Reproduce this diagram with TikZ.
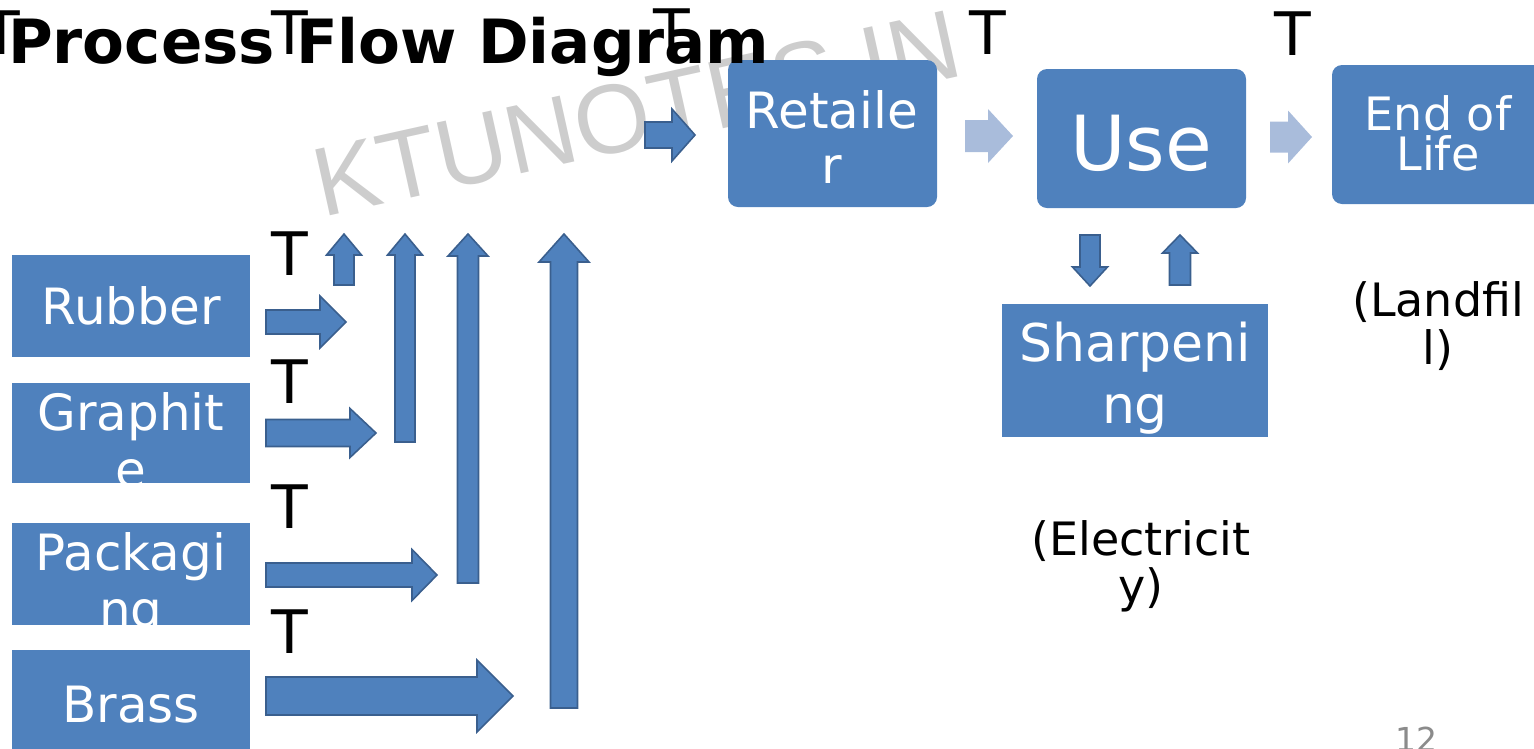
\documentclass[tikz,border=0pt]{standalone}
\usepackage{fontspec}
\setmainfont{DejaVu Sans}
\newfontfamily\wmfont{Liberation Sans}
\definecolor{boxblue}{HTML}{4F81BD}
\definecolor{arwline}{HTML}{3A5F8E}
\definecolor{lightarw}{HTML}{A9BCDB}
\definecolor{wmgray}{HTML}{CDCDCD}
\definecolor{pagegray}{HTML}{8B8B8B}
% right-pointing block arrow: [style]{x0}{y}{x head base}{x tip}{half shaft}{half head}
\newcommand\arR[7][arw]{\path[#1] ({#2},{#3-#6}) -- ({#4},{#3-#6}) -- ({#4},{#3-#7}) -- ({#5},{#3}) -- ({#4},{#3+#7}) -- ({#4},{#3+#6}) -- ({#2},{#3+#6}) -- cycle;}
% vertical block arrow: [style]{cx}{y tip}{y head base}{y tail}{half shaft}{half head}
\newcommand\arV[7][arw]{\path[#1] ({#2-#6},{#5}) -- ({#2-#6},{#4}) -- ({#2-#7},{#4}) -- ({#2},{#3}) -- ({#2+#7},{#4}) -- ({#2+#6},{#4}) -- ({#2+#6},{#5}) -- cycle;}
\begin{document}
\begin{tikzpicture}[x=1pt,y=-1pt,
  bx/.style={fill=boxblue, draw=none, inner sep=0pt},
  rbx/.style={bx, rounded corners=10pt},
  wt/.style={text=white, inner sep=0pt, anchor=base, font=\fontsize{50}{57}\selectfont},
  bt/.style={text=black, inner sep=0pt, anchor=base, font=\fontsize{46}{50}\selectfont},
  tm/.style={text=black, inner sep=0pt, anchor=base, font=\fontsize{60}{60}\selectfont},
  arw/.style={fill=boxblue, draw=arwline, line width=1.6pt, line join=miter},
  larw/.style={fill=lightarw, draw=none}]
\useasboundingbox (0,0) rectangle (1534,748);
\clip (0,0) rectangle (1534,748);

% watermark
\node[text=wmgray, inner sep=0pt, anchor=base west, rotate=12.5,
      font=\wmfont\fontsize{98}{98}\selectfont] (wm) at (322,218) {KTUNOTES.IN};

% boxes
\node[rbx, minimum width=209pt, minimum height=147pt] (retailer) at (832.5,133.5) {};
\node[rbx, minimum width=209pt, minimum height=139pt] (use) at (1141.5,138.5) {};
\node[rbx, minimum width=213pt, minimum height=139pt] (eol) at (1438.5,134.5) {};
\node[bx, minimum width=238pt, minimum height=102pt] (rubber) at (131,306) {};
\node[bx, minimum width=238pt, minimum height=100pt] (graphite) at (131,433) {};
\node[bx, minimum width=238pt, minimum height=102pt] (packaging) at (131,574) {};
\node[bx, minimum width=238pt, minimum height=110pt] (brass) at (131,705) {};
\node[bx, minimum width=266pt, minimum height=133pt] (sharp) at (1135,370.5) {};

% box texts
\node[wt] (tret1) at (832,128) {Retaile};
\node[wt] (tret2) at (832,183) {r};
\node[wt, font=\fontsize{76}{80}\selectfont] (tuse) at (1141,170) {Use};
\node[wt, font=\fontsize{46}{50}\selectfont] (teol1) at (1438,130) {End of};
\node[wt, font=\fontsize{46}{50}\selectfont] (teol2) at (1438,170) {Life};
\node[wt] (trub) at (131,324) {Rubber};
\node[wt] (tgra1) at (131,430) {Graphit};
\node[wt] (tgra2) at (131,487) {e};
\node[wt] (tpak1) at (131,570) {Packagi};
\node[wt] (tpak2) at (131,627) {ng};
\node[wt] (tbra) at (131,722) {Brass};
\node[wt, font=\fontsize{52}{60}\selectfont] (tsh1) at (1135,361) {Sharpeni};
\node[wt, font=\fontsize{52}{60}\selectfont] (tsh2) at (1135,423) {ng};

% free texts
\node[bt] (lf1) at (1438,316) {(Landfil};
\node[bt] (lf2) at (1438,364) {l)};
\node[bt] (el1) at (1141,555) {(Electricit};
\node[bt] (el2) at (1141,602) {y)};
\node[inner sep=0pt, anchor=base, text=pagegray, font=\fontsize{33}{33}\selectfont] (pg) at (1416,751) {12};

% horizontal block arrows
\arR{266}{322}{320}{346}{12}{26}
\arR{266}{433}{350}{376}{13.5}{24.5}
\arR{266}{575}{412}{437}{12}{25.5}
\arR{266}{696}{477}{513}{19}{36}
\arR{645}{135}{672}{695}{13}{26}
\arR[larw]{965}{136}{988}{1013}{16}{27}
\arR[larw]{1270}{137}{1288}{1312}{15.5}{26.5}

% vertical block arrows
\arV{344}{234}{255}{285}{10}{17.5}
\arV{405}{234}{255}{442}{10}{17.5}
\arV{468}{234}{256}{583}{10.5}{20}
\arV{564}{234}{262}{708}{13.5}{25}
\arV{1090}{286}{267}{235}{10}{17.5}
\arV{1180}{235}{253}{285}{10.5}{17.5}

% title
\node[inner sep=0pt, anchor=base west, font=\bfseries\fontsize{61}{61}\selectfont] (title) at (8,63) {Process Flow Diagram};

% T marks
\node[tm] (t1) at (2,54) {T};
\node[tm] (t2) at (290,54) {T};
\node[tm] (t3) at (672,52) {T};
\node[tm] (t4) at (988,54) {T};
\node[tm] (t5) at (1293,55) {T};
\node[tm] (t6) at (290,275) {T};
\node[tm] (t7) at (290,403) {T};
\node[tm] (t8) at (290,528) {T};
\node[tm] (t9) at (290,653) {T};
\end{tikzpicture}
\end{document}
